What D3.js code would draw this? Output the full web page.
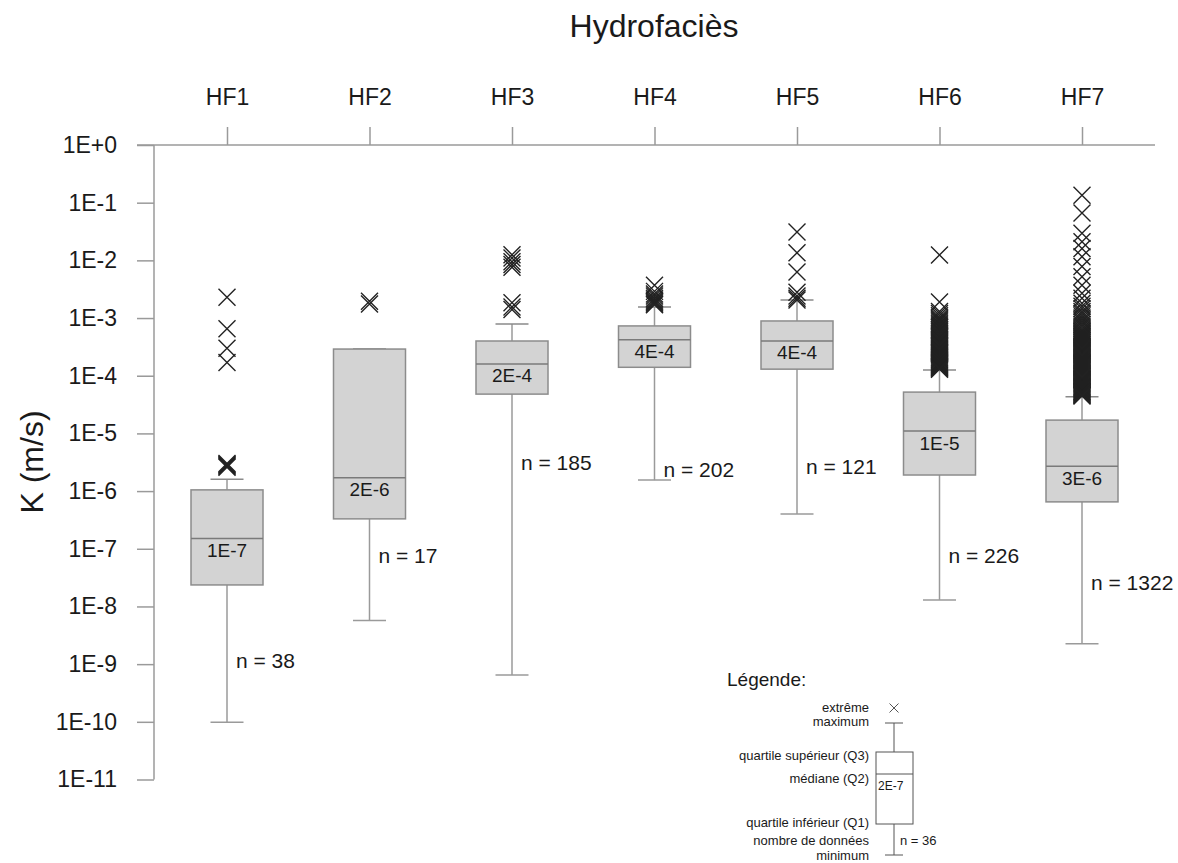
<!DOCTYPE html>
<html>
<head>
<meta charset="utf-8">
<script src="https://cdn.jsdelivr.net/npm/d3@7"></script>
<style>
  html, body { margin: 0; padding: 0; background: #fff; }
  svg { display: block; font-family: "Liberation Sans", Arial, sans-serif; }
</style>
</head>
<body>
<svg id="chart" width="1178" height="863"></svg>
<script>
// ---- data ----
const categories = ["HF1", "HF2", "HF3", "HF4", "HF5", "HF6", "HF7"];
const q1 = [2.36e-8, 3.3e-7, 4.8e-5, 1.4e-4, 1.3e-4, 1.9e-6, 6.5e-7];
const medians = [1.5e-7, 1.7e-6, 1.6e-4, 4.2e-4, 4.0e-4, 1.1e-5, 2.7e-6];
const q3 = [1.05e-6, 2.9e-4, 4.0e-4, 7.3e-4, 8.9e-4, 5.2e-5, 1.7e-5];
const whiskerHigh = [1.6e-6, 2.9e-4, 7.9e-4, 1.56e-3, 2.05e-3, 1.26e-4, 4.3e-5];
const whiskerLow = [9.8e-11, 5.7e-9, 6.5e-10, 1.55e-6, 4.0e-7, 1.3e-8, 2.25e-9];
const medianLabels = ["1E-7", "2E-6", "2E-4", "4E-4", "4E-4", "1E-5", "3E-6"];
const counts = [38, 17, 185, 202, 121, 226, 1322];
const countLabelK = [8.6e-10, 5.7e-8, 2.3e-6, 1.76e-6, 2.0e-6, 5.7e-8, 1.94e-8];
const yTickValues = [1e0, 1e-1, 1e-2, 1e-3, 1e-4, 1e-5, 1e-6, 1e-7, 1e-8, 1e-9, 1e-10, 1e-11];
const yTickLabels = ["1E+0", "1E-1", "1E-2", "1E-3", "1E-4", "1E-5", "1E-6", "1E-7", "1E-8", "1E-9", "1E-10", "1E-11"];

const outliersHF1 = [2.3e-3, 6.5e-4, 3.0e-4, 1.7e-4, 2.6e-6, 2.7e-6, 2.8e-6, 2.9e-6, 3.0e-6];
const outliersHF2 = [1.95e-3, 1.75e-3];
const outliersHF3 = [1.25e-2, 1.1e-2, 9.5e-3, 8.5e-3, 7.6e-3, 1.85e-3, 1.55e-3, 1.4e-3];
const outliersHF4 = [3.7e-3, 2.9e-3, 2.6e-3, 2.4e-3, 2.2e-3, 2.05e-3, 1.95e-3, 1.85e-3, 1.75e-3, 1.7e-3];
const outliersHF5 = [3.1e-2, 1.35e-2, 6.3e-3, 2.8e-3, 2.4e-3, 2.2e-3, 2.05e-3];
const outliersHF6 = [1.24e-2, 1.9e-3, 1.3e-3, 1.2e-3, 1.1e-3, 1.0e-3, 9.5e-4, 9.0e-4, 8.5e-4, 8.0e-4,
  7.6e-4, 7.2e-4, 6.8e-4, 6.4e-4, 6.0e-4, 5.7e-4, 5.4e-4, 5.1e-4, 4.8e-4, 4.55e-4, 4.3e-4,
  4.1e-4, 3.9e-4, 3.7e-4, 3.5e-4, 3.35e-4, 3.2e-4, 3.05e-4, 2.9e-4, 2.75e-4, 2.6e-4, 2.5e-4,
  2.4e-4, 2.3e-4, 2.2e-4, 2.1e-4, 2.0e-4, 1.92e-4, 1.85e-4, 1.78e-4, 1.7e-4, 1.65e-4, 1.6e-4,
  1.55e-4, 1.5e-4, 1.46e-4, 1.42e-4, 1.38e-4, 1.35e-4, 1.3e-4];
const outliersHF7 = [1.35e-1, 6.6e-2, 2.95e-2, 2.1e-2, 1.6e-2, 1.16e-2, 7.8e-3, 5.2e-3, 3.7e-3, 2.7e-3,
  2.2e-3, 1.8e-3, 1.6e-3, 1.45e-3, 1.3e-3, 1.2e-3, 1.1e-3, 1.0e-3, 9.2e-4, 8.5e-4, 7.8e-4,
  7.2e-4, 6.6e-4, 6.1e-4, 5.9e-4, 5.6e-4, 5.4e-4, 5.2e-4, 5.0e-4, 4.8e-4, 4.6e-4, 4.4e-4,
  4.25e-4, 4.1e-4, 3.95e-4, 3.8e-4, 3.65e-4, 3.5e-4, 3.35e-4, 3.2e-4, 3.1e-4, 3.0e-4, 2.9e-4,
  2.8e-4, 2.7e-4, 2.6e-4, 2.5e-4, 2.4e-4, 2.3e-4, 2.2e-4, 2.1e-4, 2.0e-4, 1.93e-4, 1.85e-4,
  1.78e-4, 1.7e-4, 1.65e-4, 1.6e-4, 1.55e-4, 1.5e-4, 1.45e-4, 1.4e-4, 1.35e-4, 1.3e-4,
  1.25e-4, 1.2e-4, 1.15e-4, 1.1e-4, 1.06e-4, 1.02e-4, 9.8e-5, 9.5e-5, 9.1e-5, 8.8e-5, 8.5e-5,
  8.2e-5, 7.9e-5, 7.6e-5, 7.35e-5, 7.1e-5, 6.85e-5, 6.6e-5, 6.4e-5, 6.2e-5, 6.0e-5, 5.8e-5,
  5.6e-5, 5.4e-5, 5.25e-5, 5.1e-5, 4.95e-5, 4.8e-5, 4.7e-5, 4.6e-5, 4.45e-5];
const outliers = [outliersHF1, outliersHF2, outliersHF3, outliersHF4, outliersHF5, outliersHF6, outliersHF7];

// ---- drawing ----
const svg = d3.select("#chart");
const axisColor = "#9a9a9a";
const textColor = "#1a1a1a";

const y = d3.scaleLog().domain([1e-11, 1]).range([779.5, 145]);
const x = d3.scalePoint().domain(categories).range([227, 1082]);
const boxHalf = 36, capHalf = 16.5;

// title
svg.append("text").attr("x", 654).attr("y", 37).attr("text-anchor", "middle")
  .attr("font-size", 32).attr("fill", textColor).text("Hydrofaciès");

// y label
svg.append("text").attr("transform", "translate(43,462) rotate(-90)")
  .attr("text-anchor", "middle").attr("font-size", 32).attr("fill", textColor).text("K (m/s)");

// left axis
const yAxis = d3.axisLeft(y).tickValues(yTickValues)
  .tickFormat((d, i) => yTickLabels[i]).tickSize(17).tickPadding(20);
const gy = svg.append("g").attr("transform", "translate(154,0)").call(yAxis);
gy.select(".domain").remove();
gy.append("line").attr("x1", 0).attr("x2", 0).attr("y1", y(1)).attr("y2", y(1e-11))
  .attr("stroke", axisColor).attr("stroke-width", 1.5);
gy.selectAll(".tick line").attr("stroke", axisColor).attr("stroke-width", 1.5);
gy.selectAll(".tick text").attr("font-size", 23).attr("fill", textColor)
  .attr("font-family", "Liberation Sans, Arial, sans-serif");

// top axis
const xAxis = d3.axisTop(x).tickSize(18).tickPadding(22);
const gx = svg.append("g").attr("transform", `translate(0,${y(1)})`).call(xAxis);
gx.select(".domain").remove();
gx.append("line").attr("x1", 137).attr("x2", 1155).attr("y1", 0).attr("y2", 0)
  .attr("stroke", axisColor).attr("stroke-width", 1.5);
gx.selectAll(".tick line").attr("stroke", axisColor).attr("stroke-width", 1.5);
gx.selectAll(".tick text").attr("font-size", 23).attr("fill", textColor)
  .attr("font-family", "Liberation Sans, Arial, sans-serif");

// boxes
const stats = categories.map((c, i) => ({
  c, q1: q1[i], med: medians[i], q3: q3[i], hi: whiskerHigh[i], lo: whiskerLow[i],
  lab: medianLabels[i], n: counts[i], nk: countLabelK[i], out: outliers[i]
}));

const g = svg.append("g");
stats.forEach(s => {
  const cx = x(s.c);
  const bg = g.append("g");
  // whiskers
  bg.append("line").attr("x1", cx).attr("x2", cx).attr("y1", y(s.q3)).attr("y2", y(s.hi))
    .attr("stroke", axisColor).attr("stroke-width", 1.5);
  bg.append("line").attr("x1", cx).attr("x2", cx).attr("y1", y(s.q1)).attr("y2", y(s.lo))
    .attr("stroke", axisColor).attr("stroke-width", 1.5);
  bg.append("line").attr("x1", cx - capHalf).attr("x2", cx + capHalf).attr("y1", y(s.hi)).attr("y2", y(s.hi))
    .attr("stroke", "#8a8a8a").attr("stroke-width", 1.5);
  bg.append("line").attr("x1", cx - capHalf).attr("x2", cx + capHalf).attr("y1", y(s.lo)).attr("y2", y(s.lo))
    .attr("stroke", axisColor).attr("stroke-width", 1.5);
  // box
  bg.append("rect").attr("x", cx - boxHalf).attr("width", boxHalf * 2)
    .attr("y", y(s.q3)).attr("height", y(s.q1) - y(s.q3))
    .attr("fill", "#d3d3d3").attr("stroke", "#8c8c8c").attr("stroke-width", 1.5);
  bg.append("line").attr("x1", cx - boxHalf).attr("x2", cx + boxHalf).attr("y1", y(s.med)).attr("y2", y(s.med))
    .attr("stroke", "#7a7a7a").attr("stroke-width", 1.5);
  bg.append("text").attr("x", cx).attr("y", y(s.med) + 18.5).attr("text-anchor", "middle")
    .attr("font-size", 19).attr("fill", textColor).text(s.lab);
  // n label
  bg.append("text").attr("x", cx + 9).attr("y", y(s.nk)).attr("font-size", 21)
    .attr("fill", textColor).text("n = " + s.n);
  // outliers
  bg.selectAll("path.out").data(s.out).enter().append("path").attr("class", "out")
    .attr("transform", d => `translate(${cx},${y(d)})`)
    .attr("d", "M-8.5,-8.5L8.5,8.5M-8.5,8.5L8.5,-8.5")
    .attr("fill", "none").attr("stroke", "#222").attr("stroke-width", 1.4);
});

// legend
const lg = svg.append("g");
const lsz = 13;
lg.append("text").attr("x", 727).attr("y", 686).attr("font-size", 19).attr("fill", textColor).text("Légende:");
const lx = 894;
lg.append("path").attr("transform", `translate(${lx},708)`).attr("d", "M-4.5,-4.5L4.5,4.5M-4.5,4.5L4.5,-4.5")
  .attr("stroke", "#555").attr("stroke-width", 1).attr("fill", "none");
lg.append("line").attr("x1", lx).attr("x2", lx).attr("y1", 723).attr("y2", 855).attr("stroke", "#555").attr("stroke-width", 1);
lg.append("line").attr("x1", lx - 9).attr("x2", lx + 9).attr("y1", 723).attr("y2", 723).attr("stroke", "#555").attr("stroke-width", 1);
lg.append("line").attr("x1", lx - 9).attr("x2", lx + 9).attr("y1", 855).attr("y2", 855).attr("stroke", "#555").attr("stroke-width", 1);
lg.append("rect").attr("x", 876).attr("y", 752).attr("width", 37).attr("height", 72)
  .attr("fill", "#fff").attr("stroke", "#555").attr("stroke-width", 1);
lg.append("line").attr("x1", 876).attr("x2", 913).attr("y1", 774).attr("y2", 774).attr("stroke", "#555").attr("stroke-width", 1);
lg.append("text").attr("x", 878).attr("y", 790).attr("font-size", 12).attr("fill", textColor).text("2E-7");
lg.append("text").attr("x", 900).attr("y", 845).attr("font-size", lsz).attr("fill", textColor).text("n = 36");
const legendItems = [["extrême", 712], ["maximum", 726], ["quartile supérieur (Q3)", 760], ["médiane (Q2)", 783],
  ["quartile inférieur (Q1)", 827], ["nombre de données", 845], ["minimum", 860]];
legendItems.forEach(([t, yy]) => {
  lg.append("text").attr("x", 869).attr("y", yy).attr("text-anchor", "end")
    .attr("font-size", lsz).attr("fill", textColor).text(t);
});
</script>
</body>
</html>
